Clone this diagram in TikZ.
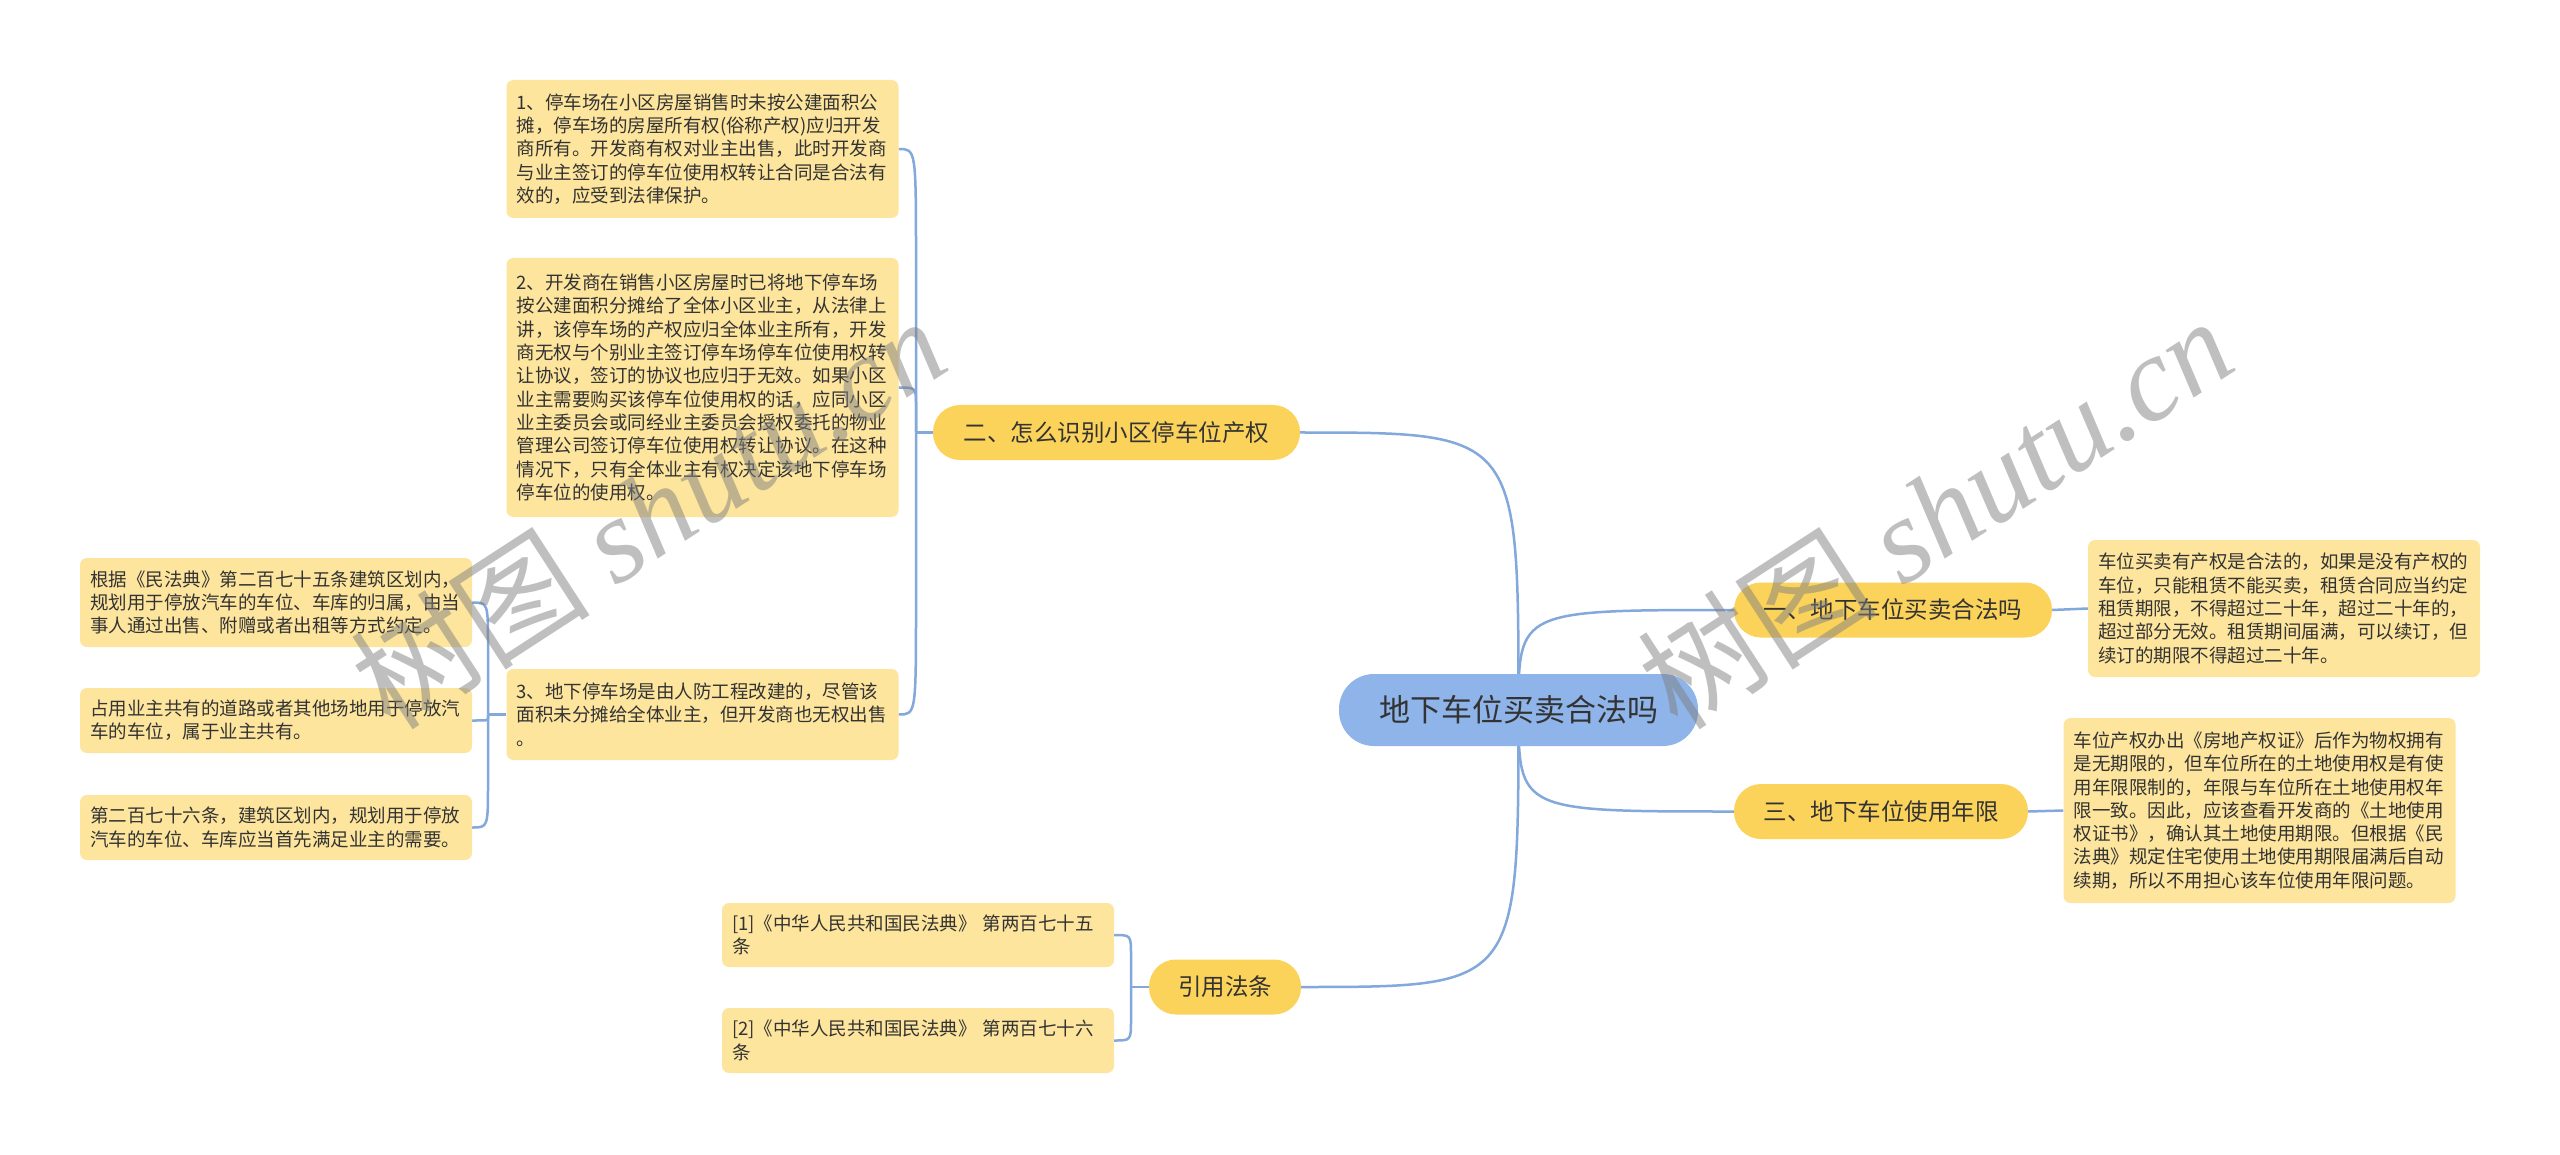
\documentclass[tikz,border=0pt]{standalone}
\usepackage{fontspec}
\setmainfont{Noto Sans CJK SC}
\newfontfamily\wmserif{Liberation Serif}
\usetikzlibrary{calc}
\definecolor{bluec}{HTML}{8EB4EA}
\definecolor{branchc}{HTML}{FCD35A}
\definecolor{detailc}{HTML}{FDE59D}
\definecolor{linec}{HTML}{82A8DC}
\definecolor{textc}{HTML}{333333}
\pgfdeclarelayer{background}
\pgfsetlayers{background,main}
\tikzset{
  central/.style={fill=bluec, rounded corners=35pt, minimum width=359pt, minimum height=72pt,
    inner sep=0pt, text=textc, font=\fontsize{31}{31}\selectfont},
  branch/.style={fill=branchc, rounded corners=27pt, minimum width=#1, minimum height=55pt,
    inner sep=0pt, text=textc, font=\fontsize{23.5}{23.5}\selectfont},
  detail/.style={fill=detailc, rounded corners=7pt, inner xsep=10pt, inner ysep=0pt,
    text width=372pt, minimum height=#1, align=left, text=textc,
    font=\fontsize{18.5}{23.3}\selectfont},
  conn/.style={draw=linec, line width=2.5pt},
  wm/.style={text=gray, opacity=0.5, rotate=33, font=\fontsize{120}{120}\selectfont}
}
% bracket link: junction #1 to child node #2
\newcommand{\brlink}[2]{%
  \draw[conn] (#1) -- ($(#1)!0.6!(#1 |- #2.east)$) .. controls (#1 |- #2.east) .. (#2.east);}
\begin{document}
\begin{tikzpicture}[x=1pt, y=-1pt]
\begin{pgfonlayer}{background}
\fill[white] (0,0) rectangle (2560,1155);
\end{pgfonlayer}
\useasboundingbox (0,0) rectangle (2560,1155);

% central and branches
\node[central] (c) at (1518.5,710) {地下车位买卖合法吗};
\node[branch=318pt] (b1) at (1893,610) {一、地下车位买卖合法吗};
\node[branch=367pt] (b2) at (1116.5,432.5) {二、怎么识别小区停车位产权};
\node[branch=294pt] (b3) at (1881,811.5) {三、地下车位使用年限};
\node[branch=152pt] (b4) at (1225,987) {引用法条};

% right details
\node[detail=137pt] (d1) at (2284,608.5) {车位买卖有产权是合法的，如果是没有产权的\\车位，只能租赁不能买卖，租赁合同应当约定\\租赁期限，不得超过二十年，超过二十年的，\\超过部分无效。租赁期间届满，可以续订，但\\续订的期限不得超过二十年。};
\node[detail=185pt] (d3) at (2259.5,810.5) {车位产权办出《房地产权证》后作为物权拥有\\是无期限的，但车位所在的土地使用权是有使\\用年限限制的，年限与车位所在土地使用权年\\限一致。因此，应该查看开发商的《土地使用\\权证书》，确认其土地使用期限。但根据《民\\法典》规定住宅使用土地使用期限届满后自动\\续期，所以不用担心该车位使用年限问题。};

% branch 2 details
\node[detail=138pt] (d21) at (702.5,149) {1、停车场在小区房屋销售时未按公建面积公\\摊，停车场的房屋所有权(俗称产权)应归开发\\商所有。开发商有权对业主出售，此时开发商\\与业主签订的停车位使用权转让合同是合法有\\效的，应受到法律保护。};
\node[detail=259pt] (d22) at (702.5,387.5) {2、开发商在销售小区房屋时已将地下停车场\\按公建面积分摊给了全体小区业主，从法律上\\讲，该停车场的产权应归全体业主所有，开发\\商无权与个别业主签订停车场停车位使用权转\\让协议，签订的协议也应归于无效。如果小区\\业主需要购买该停车位使用权的话，应同小区\\业主委员会或同经业主委员会授权委托的物业\\管理公司签订停车位使用权转让协议。在这种\\情况下，只有全体业主有权决定该地下停车场\\停车位的使用权。};
\node[detail=91pt] (d23) at (702.5,714.5) {3、地下停车场是由人防工程改建的，尽管该\\面积未分摊给全体业主，但开发商也无权出售\\。};

% sub details
\node[detail=89pt] (sa) at (276,602.5) {根据《民法典》第二百七十五条建筑区划内，\\规划用于停放汽车的车位、车库的归属，由当\\事人通过出售、附赠或者出租等方式约定。};
\node[detail=65pt] (sb) at (276,720.5) {占用业主共有的道路或者其他场地用于停放汽\\车的车位，属于业主共有。};
\node[detail=65pt] (sc) at (276,827.5) {第二百七十六条，建筑区划内，规划用于停放\\汽车的车位、车库应当首先满足业主的需要。};

% references
\node[detail=64pt] (r1) at (918,935) {[1]《中华人民共和国民法典》 第两百七十五\\条};
\node[detail=65pt] (r2) at (918,1040.5) {[2]《中华人民共和国民法典》 第两百七十六\\条};

% junctions
\coordinate (j2) at (916,432.5);
\coordinate (j23) at (488,714.5);
\coordinate (j4) at (1131,987);

\begin{pgfonlayer}{background}
  \draw[conn] (c.center) .. controls (c.center |- b2.east) .. (b2.east);
  \draw[conn] (c.center) .. controls (c.center |- b4.east) .. (b4.east);
  \draw[conn] (c.center) .. controls (c.center |- b1.west) .. (b1.west);
  \draw[conn] (c.center) .. controls (c.center |- b3.west) .. (b3.west);
  \draw[conn] (b1.east) -- (d1.west);
  \draw[conn] (b3.east) -- (d3.west);
  \draw[conn] (b2.west) -- (j2);
  \brlink{j2}{d21}
  \brlink{j2}{d22}
  \brlink{j2}{d23}
  \draw[conn] (d23.west) -- (j23);
  \brlink{j23}{sa}
  \brlink{j23}{sb}
  \brlink{j23}{sc}
  \draw[conn] (b4.west) -- (j4);
  \brlink{j4}{r1}
  \brlink{j4}{r2}
\end{pgfonlayer}

% watermarks
\node[wm] (wm1) at (648,512) {树图 {\wmserif\itshape shutu.cn}};
\node[wm] (wm2) at (1935,512) {树图 {\wmserif\itshape shutu.cn}};
\end{tikzpicture}
\end{document}
